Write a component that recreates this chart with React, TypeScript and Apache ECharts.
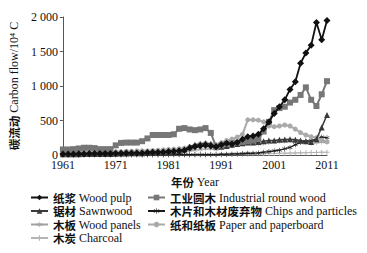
import React, { useEffect, useRef } from "react";
import * as echarts from "echarts";

const years: string[] = [];
for (let y = 1961; y <= 2011; y++) years.push(String(y));

const yTicks = [0, 500, 1000, 1500, 2000];

const woodPulp = [
  15, 15, 15, 18, 18, 20, 20, 20, 22, 22,
  25, 25, 28, 30, 30, 30, 35, 40, 40, 45,
  50, 55, 60, 70, 100, 120, 130, 140, 130, 120,
  150, 170, 160, 180, 230, 265, 275, 300, 380, 480,
  600, 700, 800, 950, 1060, 1330, 1480, 1590, 1920, 1670, 1950,
];
const industrialRoundWood = [
  80, 80, 85, 95, 105, 105, 100, 85, 85, 85,
  140, 175, 180, 180, 180, 200, 240, 290, 290, 290,
  290, 300, 380, 390, 370, 360, 370, 390, 320, 120,
  140, 160, 170, 180, 190, 200, 210, 230, 340, 480,
  650, 680, 700, 760, 800, 870, 980, 800, 710, 880, 1070,
];
const sawnwood = [
  10, 10, 12, 12, 14, 14, 15, 15, 16, 16,
  18, 20, 22, 24, 25, 26, 28, 30, 32, 35,
  40, 50, 60, 80, 120, 150, 160, 170, 160, 130,
  120, 130, 150, 160, 170, 180, 180, 190, 200, 210,
  210, 220, 225, 230, 220, 210, 200, 190, 230, 400, 580,
];
const chips = [
  2, 2, 2, 2, 2, 2, 2, 2, 2, 2,
  3, 3, 3, 3, 3, 3, 3, 3, 3, 3,
  4, 4, 4, 4, 5, 5, 5, 5, 5, 5,
  10, 10, 15, 15, 20, 25, 25, 30, 40, 50,
  60, 70, 90, 110, 150, 180, 200, 210, 230, 260, 250,
];
const woodPanels = [
  8, 8, 8, 9, 9, 10, 10, 10, 11, 11,
  12, 12, 13, 13, 14, 14, 15, 15, 16, 18,
  20, 25, 30, 40, 60, 70, 80, 90, 90, 80,
  100, 120, 130, 150, 160, 170, 170, 160, 170, 180,
  190, 200, 200, 210, 200, 190, 180, 170, 180, 190, 180,
];
const paper = [
  45, 45, 45, 45, 45, 45, 45, 45, 45, 45,
  50, 50, 55, 55, 60, 60, 60, 65, 70, 75,
  80, 85, 90, 100, 120, 140, 160, 170, 160, 150,
  180, 210, 230, 260, 300, 510, 510, 505, 480, 420,
  410, 420, 435, 420, 375, 325, 290, 265, 250, 215, 195,
];
const charcoal = [
  1, 1, 1, 1, 1, 1, 1, 1, 1, 1,
  1, 1, 1, 1, 1, 1, 1, 1, 1, 1,
  2, 2, 2, 2, 2, 3, 3, 3, 3, 3,
  5, 6, 8, 10, 12, 14, 15, 16, 18, 20,
  22, 24, 26, 28, 30, 32, 34, 36, 38, 40, 40,
];

const names = [
  "纸浆 Wood pulp",
  "工业圆木 Industrial round wood",
  "锯材 Sawnwood",
  "木片和木材废弃物 Chips and particles",
  "木板 Wood panels",
  "纸和纸板 Paper and paperboard",
  "木炭 Charcoal",
];

const plusPath = "path://M4,0L6,0L6,4L10,4L10,6L6,6L6,10L4,10L4,6L0,6L0,4L4,4Z";
const starPath =
  "path://M4.5,0L5.5,0L5.5,4L9,2L9.5,3L6,5L9.5,7L9,8L5.5,6L5.5,10L4.5,10L4.5,6L1,8L0.5,7L4,5L0.5,3L1,2L4.5,4Z";

const SERIF = "'Times New Roman', 'Liberation Serif', serif";
const CJK = "'Noto Sans CJK SC', sans-serif";

export default function App() {
  const ref = useRef<HTMLDivElement>(null);
  useEffect(() => {
    if (!ref.current) return;
    const chart = echarts.init(ref.current, null, { renderer: "svg" });
    const mk = (
      name: string,
      data: number[],
      color: string,
      symbol: string,
      size: number,
      width: number,
      z: number
    ) => ({
      name,
      type: "line",
      data,
      symbol,
      symbolSize: size,
      showSymbol: true,
      showAllSymbol: true,
      itemStyle: { color },
      lineStyle: { color, width },
      z,
    });
    const rich = {
      c: { fontFamily: CJK, fontSize: 11.5, fontWeight: "bold", color: "#111" },
      e: { fontFamily: SERIF, fontSize: 12, color: "#111" },
    };
    const legendText = {
      fontFamily: SERIF,
      fontSize: 12,
      color: "#111",
      lineHeight: 13,
      rich,
    };
    const fmt = (n: string) => {
      const i = n.indexOf(" ");
      return "{c|" + n.slice(0, i) + "}{e|" + n.slice(i) + "}";
    };
    const legendBase = {
      orient: "vertical",
      top: 191,
      padding: 0,
      itemGap: 0.5,
      itemWidth: 17,
      itemHeight: 7,
      textStyle: legendText,
      formatter: fmt,
    };
    chart.setOption({
      animation: false,
      backgroundColor: "#fff",
      textStyle: { fontFamily: SERIF },
      grid: { left: 57, right: 40, top: 17, bottom: 98, containLabel: false },
      legend: [
        { ...legendBase, left: 30, data: [names[0], names[2], names[4], names[6]] },
        { ...legendBase, left: 147, data: [names[1], names[3], names[5]] },
      ],
      xAxis: {
        type: "category",
        data: years,
        boundaryGap: false,
        name: "{c|年份} {e|Year}",
        nameLocation: "middle",
        nameGap: 20,
        nameTextStyle: { rich },
        axisLine: { lineStyle: { color: "#555", width: 1 } },
        axisTick: { show: false },
        axisLabel: {
          interval: 9,
          fontFamily: SERIF,
          fontSize: 12,
          color: "#111",
          margin: 4,
        },
        splitLine: { show: false },
      },
      yAxis: {
        type: "value",
        min: 0,
        max: 2000,
        interval: 500,
        name: "{c|碳流动} {e|Carbon flow/10⁴ C}",
        nameLocation: "middle",
        nameRotate: 90,
        nameGap: 28,
        nameTextStyle: { rich },
        axisLine: { show: true, lineStyle: { color: "#555", width: 1 } },
        axisTick: { show: true, length: 3, lineStyle: { color: "#555" } },
        axisLabel: {
          fontFamily: SERIF,
          fontSize: 12,
          color: "#111",
          margin: 5,
          formatter: (v: number) =>
            yTicks.includes(v) ? String(v).replace(/\B(?=(\d{3})+(?!\d))/g, " ") : "",
        },
        splitLine: { show: false },
      },
      series: [
        mk(names[6], charcoal, "#b5b5b5", plusPath, 5, 1, 1),
        mk(names[4], woodPanels, "#a0a0a0", starPath, 5, 1.2, 2),
        mk(names[3], chips, "#1a1a1a", starPath, 5, 1.2, 3),
        mk(names[5], paper, "#aaaaaa", "circle", 5, 2, 4),
        mk(names[2], sawnwood, "#3a3a3a", "triangle", 6, 1.5, 5),
        mk(names[1], industrialRoundWood, "#777777", "rect", 6, 2, 6),
        mk(names[0], woodPulp, "#111111", "diamond", 7, 1.8, 7),
      ],
    });
    return () => chart.dispose();
  }, []);
  return (
    <div
      ref={ref}
      style={{ position: "fixed", left: 0, top: 0, width: 367, height: 253 }}
    />
  );
}
